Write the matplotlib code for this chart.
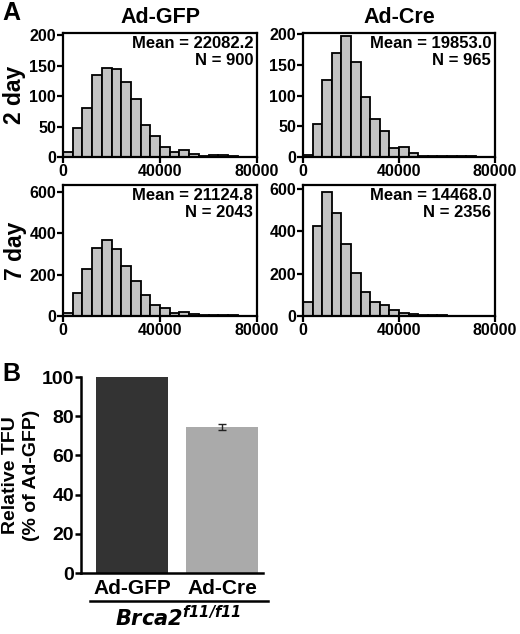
import numpy as np
import matplotlib
matplotlib.use("Agg")
import matplotlib.pyplot as plt

plt.rcParams['font.family'] = ['Liberation Sans', 'DejaVu Sans']
plt.rcParams['font.weight'] = 'bold'

# ---- data ----
bin_width = 4000
gfp_2day = [8, 47, 81, 135, 147, 144, 124, 96, 52, 34, 16, 8, 11, 5, 2, 3, 3, 1, 0, 0]
cre_2day = [3, 54, 126, 169, 197, 155, 97, 62, 42, 15, 17, 7, 2, 2, 1, 1, 1, 1, 0, 0]
gfp_7day = [13, 113, 227, 331, 370, 324, 240, 170, 104, 55, 39, 16, 19, 10, 6, 5, 5, 3, 1, 0]
cre_7day = [65, 427, 588, 486, 343, 203, 115, 65, 51, 27, 13, 8, 6, 5, 3, 2, 1, 1, 0, 0]
means = ["22082.2", "19853.0", "21124.8", "14468.0"]
ns = ["900", "965", "2043", "2356"]
col_titles = ["Ad-GFP", "Ad-Cre"]
row_titles = ["2 day", "7 day"]

bar_labels = ["Ad-GFP", "Ad-Cre"]
bar_values = [100, 74.5]
bar_errors = [0, 1.6]

W, H = 520, 634
fig = plt.figure(figsize=(W / 100, H / 100), dpi=100)

def rect(l, t, r, b):
    return [l / W, 1 - b / H, (r - l) / W, (b - t) / H]

hists = [gfp_2day, cre_2day, gfp_7day, cre_7day]
rects = [rect(63, 33, 257, 157), rect(303, 33, 495, 157),
         rect(63, 185, 257, 316), rect(303, 185, 495, 316)]
ylims = [204, 202, 634, 620]
yticks = [[0, 50, 100, 150, 200], [0, 50, 100, 150, 200],
          [0, 200, 400, 600], [0, 200, 400, 600]]

for i, (counts, r) in enumerate(zip(hists, rects)):
    ax = fig.add_axes(r)
    edges = np.arange(len(counts)) * bin_width
    ax.bar(edges, counts, width=bin_width, align='edge', color='#c3c3c3',
           edgecolor='black', linewidth=1.3)
    ax.set_xlim(0, 80000)
    ax.set_ylim(0, ylims[i])
    ax.set_xticks([0, 40000, 80000])
    ax.set_xticklabels(["0", "40000", "80000"])
    ax.set_yticks(yticks[i])
    for s in ax.spines.values():
        s.set_linewidth(1.6)
    ax.tick_params(direction='out', length=4, width=1.6, labelsize=11.5, pad=1)
    for lab in ax.get_xticklabels() + ax.get_yticklabels():
        lab.set_fontweight('bold')
    ax.text(0.98, 0.975, f"Mean = {means[i]}\nN = {ns[i]}", transform=ax.transAxes,
            ha='right', va='top', fontsize=12, fontweight='bold', linespacing=1.15)
    if i < 2:
        ax.set_title(col_titles[i], fontsize=15.5, fontweight='bold', pad=7)
    if i % 2 == 0:
        ax.set_ylabel(row_titles[i // 2], fontsize=16.5, fontweight='bold', labelpad=2)

fig.text(2 / W, 1 - 13 / H, "A", fontsize=18, fontweight='bold', va='center', ha='left')
fig.text(2 / W, 1 - 374 / H, "B", fontsize=18, fontweight='bold', va='center', ha='left')

# ---- bar chart ----
axb = fig.add_axes(rect(81, 377, 263, 573))
x = np.arange(len(bar_labels))
axb.bar(x, bar_values, width=0.79, color=['#333333', '#aaaaaa'])
axb.errorbar(x[1:], bar_values[1:], yerr=bar_errors[1:], fmt='none', ecolor='#222222',
             elinewidth=1, capsize=3, capthick=1)
axb.set_xlim(-0.567, 1.456)
axb.set_ylim(0, 100)
axb.set_yticks([0, 20, 40, 60, 80, 100])
axb.set_xticks(x)
axb.set_xticklabels(bar_labels)
for side in ['top', 'right']:
    axb.spines[side].set_visible(False)
for side in ['left', 'bottom']:
    axb.spines[side].set_linewidth(1.8)
axb.tick_params(axis='y', direction='out', length=4, width=1.8, labelsize=14, pad=1)
axb.tick_params(axis='x', length=0, labelsize=15, pad=4)
for lab in axb.get_xticklabels() + axb.get_yticklabels():
    lab.set_fontweight('bold')
axb.set_ylabel("Relative TFU\n(% of Ad-GFP)", fontsize=14, fontweight='bold',
               linespacing=1.3, labelpad=1)

fig.add_artist(plt.Line2D([90 / W, 268 / W], [1 - 601 / H, 1 - 601 / H],
                          color='black', linewidth=1.8))
fig.text(178 / W, 1 - 618 / H, r"$\mathbfit{Brca2}^{\mathbfit{f11/f11}}$", fontsize=15,
         ha='center', va='center')

fig.savefig("out.png", dpi=100)
